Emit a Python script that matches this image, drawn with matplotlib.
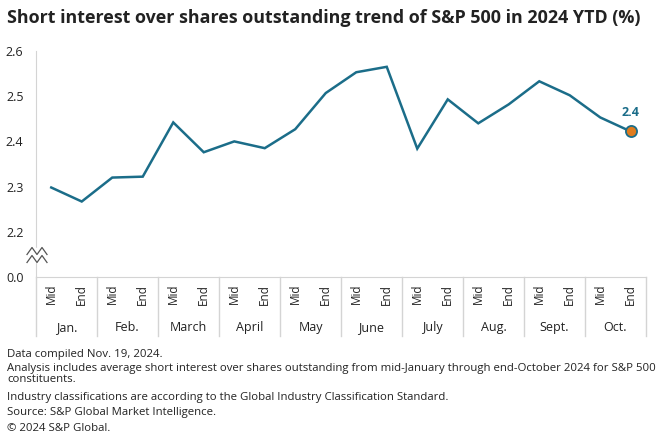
import numpy as np
import matplotlib.pyplot as plt
from matplotlib.lines import Line2D
from matplotlib.patches import Rectangle

plt.rcParams['font.family'] = ['Open Sans', 'DejaVu Sans']

months = ['Jan.', 'Feb.', 'March', 'April', 'May', 'June', 'July', 'Aug.', 'Sept.', 'Oct.']
halves = ['Mid', 'End']
values = [2.298, 2.267, 2.320, 2.322, 2.442, 2.376, 2.400, 2.385, 2.427, 2.507,
          2.553, 2.565, 2.384, 2.493, 2.440, 2.482, 2.533, 2.502, 2.453, 2.422]
y_ticks = [2.1, 2.2, 2.3, 2.4, 2.5, 2.6]
y_labels = ['0.0', '2.2', '2.3', '2.4', '2.5', '2.6']
last_label = '2.4'

title = 'Short interest over shares outstanding trend of S&P 500 in 2024 YTD (%)'
notes = [
    'Data compiled Nov. 19, 2024.',
    'Analysis includes average short interest over shares outstanding from mid-January through end-October 2024 for S&P 500\nconstituents.',
    'Industry classifications are according to the Global Industry Classification Standard.',
    'Source: S&P Global Market Intelligence.',
    '\u00a9 2024 S&P Global.',
]

line_color = '#1b6d89'
dot_color = '#e07c1e'
grid_gray = '#d4d4d4'
text_color = '#222222'

fig = plt.figure(figsize=(6.6, 4.48), dpi=100)
ax = fig.add_axes([36 / 660, 1 - 277 / 448, 610 / 660, 226 / 448])

x = np.arange(len(values))
ax.plot(x, values, color=line_color, lw=1.8, solid_joinstyle='miter', zorder=3)
ax.plot(x[-1], values[-1], 'o', ms=8, mfc=dot_color, mec=line_color, mew=1.3, zorder=4)
ax.annotate(last_label, (x[-1], values[-1]), xytext=(0, 9), textcoords='offset points',
            ha='center', va='bottom', color=line_color, fontsize=9, fontweight='bold')

ax.set_xlim(-0.5, len(values) - 0.5)
ax.set_ylim(2.1, 2.6)
ax.set_yticks(y_ticks)
ax.set_yticklabels(y_labels)
ax.tick_params(axis='y', length=0, pad=9, labelsize=9, labelcolor=text_color)
ax.set_xticks([])

for s in ['top', 'right']:
    ax.spines[s].set_visible(False)
ax.spines['left'].set_color(grid_gray)
ax.spines['bottom'].set_color(grid_gray)

# sub labels and month labels
trans = ax.get_xaxis_transform()
for i, v in enumerate(values):
    ax.text(i, -0.03, halves[i % 2], rotation=90, ha='center', va='top',
            fontsize=8.5, color=text_color, transform=trans)
for m, name in enumerate(months):
    ax.text(2 * m + 0.5, -0.195, name, ha='center', va='top', fontsize=9,
            color=text_color, transform=trans)
for b in range(len(months) + 1):
    ax.add_line(Line2D([2 * b - 0.5] * 2, [0, -0.26], transform=trans,
                       color=grid_gray, lw=1, clip_on=False))

# axis break
ax_b = fig.add_axes([0, 0, 1, 1], facecolor='none')
ax_b.set_axis_off()
ax_b.set_xlim(0, 660)
ax_b.set_ylim(448, 0)
ax_b.add_patch(Rectangle((33, 248), 6, 14, color='white', zorder=2))
zx = [27, 32, 37, 42, 47]
for y0 in [251, 259]:
    ax_b.plot(zx, [y0 + 3.5, y0 - 3.5, y0 + 3.5, y0 - 3.5, y0 + 3.5],
              color='#555555', lw=0.9, zorder=3)

fig.text(7 / 660, 1 - 18 / 448, title, fontsize=12.9, fontweight='bold',
         color=text_color, va='center', ha='left')

ys = [355, 369, 398, 413, 429]
for y, n in zip(ys, notes):
    fig.text(7 / 660, 1 - (y - 6) / 448, n, fontsize=8.2, color=text_color,
             va='top', ha='left', linespacing=1.05)

fig.savefig('out.png', dpi=100)
